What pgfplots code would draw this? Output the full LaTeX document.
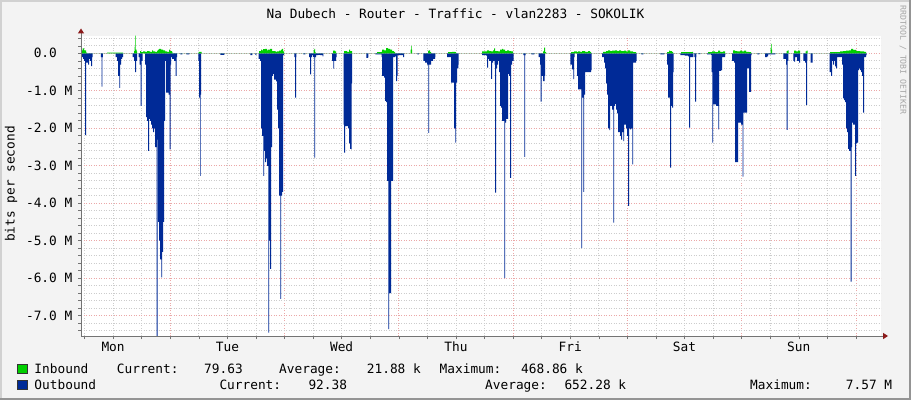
\documentclass[border=0pt]{standalone}
\usepackage{pgfplots}
\pgfplotsset{compat=1.18}
\usepackage{fontspec}
\setmainfont{DejaVu Sans Mono}
\definecolor{bg}{HTML}{F3F3F3}
\definecolor{inb}{HTML}{00CF00}
\definecolor{outb}{HTML}{002A97}
\definecolor{mgrid}{HTML}{EBA8A8}
\definecolor{ngrid}{HTML}{CCCCCC}
\definecolor{arrowred}{HTML}{8B1A1A}
\newcommand\rrdfont{\fontsize{12.8bp}{14bp}\selectfont}
\begin{document}
\begin{tikzpicture}[x=1bp,y=1bp]
\fill[bg] (0,0) rectangle (911,400);
\useasboundingbox (0,0) rectangle (911,400);
% frame
\fill[black!18] (0,398) rectangle (911,400);
\fill[black!18] (0,0) rectangle (2,400);
\fill[black!42] (0,0) rectangle (911,2.5);
\fill[black!42] (908.5,0) rectangle (911,400);

\begin{axis}[
  at={(81bp,64bp)}, anchor=south west,
  scale only axis, width=800bp, height=300bp,
  xmin=81, xmax=881, ymin=-7.542, ymax=0.462,
  axis background/.style={fill=white},
  axis x line*=bottom, axis y line*=left,
  axis line style={draw=black!55, line width=0.8bp},
  xtick={170.2,284.5,398.8,513.1,627.4,741.7,856.0},
  xticklabels={},
  minor xtick={84.5,113.1,141.6,198.8,227.4,255.9,313.1,341.6,370.2,427.4,455.9,484.5,541.7,570.2,598.8,656.0,684.5,713.1,770.3,798.8,827.4},
  extra x ticks={113.1,227.4,341.6,455.9,570.2,684.5,798.8},
  extra x tick labels={Mon,Tue,Wed,Thu,Fri,Sat,Sun},
  extra x tick style={grid=none},
  ytick={-7,-6,-5,-4,-3,-2,-1,0},
  yticklabels={-7.0 M,-6.0 M,-5.0 M,-4.0 M,-3.0 M,-2.0 M,-1.0 M,0.0\phantom{xx}},
  minor ytick={-7.4,-7.2,-6.8,-6.6,-6.4,-6.2,-5.8,-5.6,-5.4,-5.2,-4.8,-4.6,-4.4,-4.2,-3.8,-3.6,-3.4,-3.2,-2.8,-2.6,-2.4,-2.2,-1.8,-1.6,-1.4,-1.2,-0.8,-0.6,-0.4,-0.2,0.2,0.4},
  grid=both,
  major grid style={mgrid, dash pattern=on 1bp off 1.5bp, line width=0.7bp},
  minor grid style={ngrid, dash pattern=on 1bp off 1.5bp, line width=0.7bp},
  tick align=outside, major tick length=3bp, minor tick length=3bp,
  tick style={black!55, line width=0.6bp},
  tick label style={font=\rrdfont, inner sep=0pt},
  yticklabel style={anchor=east, xshift=-5.5bp},
  xticklabel style={anchor=north, yshift=-3bp},
]
% Outbound (drawn below zero)
\addplot[const plot, draw=none, fill=outb] coordinates {
(81,-0.05)(82,-0.1)(83,-0.15)(84,-0.2)(85,-2.18)(86,-0.25)(87,-0.25)(88,-0.3)(89,-0.15)(90,-0.2)(91,-0.34)(92,-0.1)(92.5,0)
(100.5,0)(100.8,-0.1)(101.5,-0.89)(102.3,-0.1)(102.8,0)
(115,0)(115.5,-0.1)(117,-0.2)(118,-0.6)(119.3,-0.92)(120,-0.3)(121,-0.15)(122,-0.1)(123,0)
(132,0)(132.5,-0.1)(134,-0.2)(135,-0.5)(136,-0.2)(137,0)
(138,0)(138.5,-0.1)(139.5,-0.3)(140.7,-1.4)(141.5,-0.2)(142.5,0)
(144,0)(145,-0.3)(146,-1.7)(147,-1.8)(148,-2.6)(149,-1.75)(150,-1.8)(151,-1.9)(152,-2.0)(153,-2.1)(154,-2.0)(155,-2.5)(156.5,-7.6)(157.5,-2.3)(158,-4.5)(159,-5.0)(160,-5.5)(161.3,-5.98)(162,-5.3)(163,-4.5)(164,-1.8)(165,-0.2)(166,-1.05)(167,-1.05)(168.5,-1.1)(169.5,-2.56)(170.5,-0.3)(171,-0.1)(172,-0.15)(174,-0.2)(175.7,-0.6)(176.5,-0.1)(177,0)
(180,0)(180.3,-0.03)(182,-0.03)(182.3,0)(186,0)(186.3,-0.03)(189,-0.03)(189.3,0)
(198,0)(198.3,-0.2)(199,-1.18)(200,-3.27)(200.7,-1.1)(201,0)
(220,0)(220.3,-0.04)(224,-0.04)(224.3,0)
(250,0)(250.3,-0.05)(252,-0.05)(252.3,0)(255,0)(255.3,-0.04)(256,-0.04)(256.3,0)
(258,0)(258.5,-0.15)(260,-0.2)(261,-2.0)(262,-2.2)(263.3,-3.27)(264,-2.6)(265,-2.9)(266,-2.8)(267,-3.0)(268.3,-7.45)(269,-5.0)(270,-5.75)(271,-2.5)(272,-0.6)(273,-0.55)(274,-0.7)(275,-0.7)(276,-0.75)(277,-1.5)(278,-2.0)(279,-3.8)(280.3,-6.55)(281,-3.8)(282,-3.7)(283,-0.05)(284,0)
(294,0)(294.3,-0.1)(295,-1.18)(296,-0.1)(296.3,0)
(303,0)(303.3,-0.03)(305,-0.03)(305.3,0)
(308.5,0)(309,-0.1)(310,-0.56)(311,-0.1)(312,-0.05)(313,-0.1)(314.3,-2.78)(315,-0.1)(316,-0.05)(318,-0.04)(320,-0.05)(322.7,-0.08)(323.3,0)
(331.5,0)(332,-0.2)(333.3,-0.41)(334,-0.2)(336,-0.1)(336.5,0)
(343,0)(343.5,-1.9)(344,-2.65)(345,-1.94)(346,-1.94)(347,-1.94)(348,-2.0)(349,-2.4)(350,-2.55)(351,-2.56)(351.7,-0.8)(352,0)
(366,0)(366.3,-0.12)(368,-0.1)(368.3,0)
(375,0)(375.3,-0.03)(381,-0.03)(381.5,-0.1)(382,-0.6)(383,-0.6)(384,-0.65)(385,-1.27)(386,-1.3)(387,-3.4)(388.3,-7.36)(389,-6.4)(390,-6.4)(391,-3.4)(392,-3.4)(393,-0.1)(395,-0.08)(396,-0.74)(397,-0.6)(397.5,-0.05)(400,-0.05)(403,-0.1)(404,0)
(417,0)(417.3,-0.03)(418.5,-0.03)(418.8,0)
(423,0)(423.3,-0.2)(425,-0.25)(427,-0.3)(428.3,-2.12)(429,-0.3)(431,-0.2)(433,-0.15)(435,-0.1)(435.3,0)
(446.5,0)(447,-0.1)(450,-0.1)(451,-0.78)(453,-0.78)(454,-2.0)(455.3,-2.38)(456,-0.78)(457,-0.4)(458.3,-0.3)(458.6,0)
(481.5,0)(482,-0.05)(486,-0.06)(487,-0.38)(488,-0.15)(489,-0.2)(491,-0.68)(492,-0.25)(493,-0.2)(494.5,-0.3)(495,-3.72)(496,-0.4)(497,-0.3)(498,-0.2)(499,-0.5)(500,-1.4)(501,-1.45)(502,-1.8)(503,-1.8)(504.3,-6.0)(505,-1.85)(506,-1.75)(507,-1.75)(508,-0.55)(509,-0.6)(510,-3.32)(511,-0.3)(512,-0.2)(513,-0.2)(513.5,0)
(523,0)(523.3,-0.05)(524.3,-2.76)(525,-0.05)(525.5,0)
(531,0)(531.3,-0.03)(534,-0.03)(534.3,0)
(538,0)(538.5,-0.1)(540,-0.3)(540.7,-1.29)(541.5,-0.6)(543,-0.74)(544.5,-0.6)(545,0)
(570,0)(570.3,-0.3)(572,-0.43)(573.3,-0.69)(574,-0.1)(574.5,0)
(576.5,0)(577,-0.6)(578,-0.96)(580,-0.96)(581.3,-5.2)(582,-1.18)(583.3,-3.7)(584,-1.1)(585,-0.5)(587,-0.5)(589,-0.5)(591,-0.45)(591.7,0)
(601.5,0)(602,-0.1)(604,-0.25)(605,-0.4)(606,-0.8)(607,-1.1)(608,-2.0)(609.3,-2.05)(610,-1.4)(611,-1.4)(612,-1.5)(613.3,-4.52)(614,-1.4)(615,-1.35)(616,-1.5)(617,-1.6)(618,-2.1)(619,-2.1)(620,-2.2)(621,-2.3)(622,-2.1)(623.3,-2.34)(624,-1.9)(625,-1.9)(626,-2.0)(627,-2.2)(628,-4.07)(629,-2.0)(630,-2.03)(631,-2.0)(632.3,-2.96)(633,-0.25)(634,-0.25)(636,-0.2)(636.7,0)
(641,0)(641.3,-0.03)(643,-0.03)(643.3,0)
(660,0)(660.3,-0.03)(664,-0.03)(664.3,0)
(666.5,0)(667,-0.3)(668,-1.18)(669,-1.18)(670,-3.05)(671,-1.4)(672,-1.45)(673,-0.5)(673.5,0)
(680,0)(680.3,-0.05)(684,-0.04)(685,-0.06)(688,-0.08)(689,-1.98)(690,-0.1)(692,-0.1)(693.3,0)
(694,0)(694.3,-0.1)(695,-1.29)(696,-0.1)(696.3,0)
(698,0)(698.3,-0.02)(700,-0.02)(700.3,0)
(706.7,0)(707,-0.03)(711,-0.04)(711.5,-0.5)(712.3,-2.38)(713,-1.36)(714,-1.36)(715,-1.36)(716,-1.4)(717,-1.4)(718.3,-2.03)(719,-0.47)(720,-0.47)(721,-0.45)(722,-0.1)(725,-0.05)(725.3,0)
(731.7,0)(732,-0.2)(734,-0.25)(735,-2.9)(736.7,-2.9)(737.5,-2.9)(738,-1.85)(740,-1.85)(741,-1.9)(742.7,-3.29)(743.3,-1.58)(745,-1.58)(746,-1.58)(747,-0.4)(748,-0.4)(749,-1.03)(750.5,-1.03)(751,-0.05)(751.7,0)
(757,0)(757.3,-0.03)(759,-0.03)(759.3,0)
(764.5,0)(765,-0.1)(767,-0.08)(768,-0.03)(775,-0.03)(775.3,0)
(783,0)(783.3,-0.15)(785,-0.15)(786,-0.3)(786.7,-2.04)(787.5,-0.2)(788.3,0)
(793,0)(793.3,-0.2)(794,-0.22)(795,-0.1)(797,-0.2)(799,-0.25)(800,0)
(803,0)(803.3,-0.2)(805,-0.25)(806,-1.38)(807,-0.2)(807.3,0)
(810.5,0)(810.7,-0.25)(812,-0.25)(812.7,0)
(829,0)(829.5,-0.5)(831,-0.6)(832,-0.2)(833,-0.3)(834,-0.2)(835,-0.35)(836,-0.4)(837,-0.1)(840,-0.1)(842,-0.3)(843,-1.2)(844,-1.25)(845,-1.3)(846,-2.0)(847,-2.1)(848,-2.55)(849,-2.6)(850.7,-6.09)(851.5,-2.5)(852,-1.85)(853,-1.9)(854,-1.9)(855,-3.27)(856,-2.4)(857,-2.38)(858,-0.45)(859,-0.4)(860,-0.45)(861,-0.5)(862,-0.6)(863,-1.58)(864,-0.1)(866,-0.05)(866.7,0)
} \closedcycle;
% Inbound (drawn above zero)
\addplot[const plot, draw=none, fill=inb] coordinates {
(81,0.08)(82.5,0.13)(84,0.08)(86,0.02)(87,0)
(106,0)(107,0.02)(122,0.02)(123,0)
(133,0)(134,0.06)(134.5,0.18)(135,0.47)(135.7,0.1)(136.5,0.05)(137,0)
(139,0)(140,0.06)(141,0.03)(143,0.05)(145,0.04)(147,0.06)(149,0.05)(150,0.04)(152,0.08)(153,0.05)(155,0.04)(157,0.07)(158,0.1)(159,0.12)(161,0.1)(163,0.08)(165,0.05)(167,0.04)(169,0.1)(170,0.06)(172,0.02)(173,0)
(198,0)(198.5,0.04)(201,0.04)(201.5,0)
(258,0)(259,0.06)(261,0.1)(262,0.08)(263,0.11)(265,0.12)(267,0.08)(268,0.1)(270,0.12)(272,0.06)(275,0.05)(276,0.04)(277,0.05)(279,0.07)(281,0.1)(282,0.12)(283,0.05)(284,0)
(313,0)(313.5,0.08)(314.3,0.12)(315,0.03)(315.5,0)
(332,0)(333,0.07)(335,0.05)(336,0)
(343,0)(344,0.06)(347,0.04)(349,0.1)(350,0.06)(352,0)
(376,0)(377,0.03)(381,0.04)(382,0.1)(384,0.08)(386,0.14)(388,0.12)(390,0.1)(392,0.06)(394,0.03)(395,0)
(410,0)(410.5,0.1)(411,0.2)(411.5,0.1)(412,0)
(427,0)(428,0.06)(428.5,0.08)(430,0.03)(431,0)
(447,0)(448,0.03)(452,0.04)(455,0.03)(456,0)
(481,0)(482,0.05)(485,0.05)(487,0.08)(489,0.06)(491,0.05)(493,0.08)(494,0.13)(495,0.06)(498,0.05)(500,0.1)(502,0.12)(503,0.1)(505,0.06)(507,0.08)(509,0.06)(511,0.05)(513,0)
(542,0)(543,0.05)(544,0.15)(545,0.03)(546,0)
(570,0)(571,0.03)(574,0.05)(577,0.03)(578,0.05)(580,0.04)(582,0.06)(585,0.04)(588,0.06)(590,0.03)(591,0)
(602,0)(603,0.04)(606,0.06)(608,0.08)(610,0.06)(612,0.07)(615,0.08)(617,0.06)(619,0.08)(621,0.06)(624,0.07)(626,0.05)(628,0.08)(630,0.05)(633,0.03)(636,0)
(666,0)(667,0.03)(669,0.07)(670,0.06)(672,0.03)(673,0)
(680,0)(681,0.03)(686,0.03)(692,0.04)(693,0)
(707,0)(708,0.03)(712,0.05)(715,0.03)(718,0.07)(720,0.04)(723,0.05)(725,0)
(732,0)(733,0.08)(735,0.06)(737,0.05)(740,0.07)(742,0.05)(744,0.07)(746,0.04)(749,0.03)(751,0)
(770,0)(770.5,0.15)(771,0.25)(771.5,0.1)(772,0)
(786,0)(786.5,0.06)(787.5,0.08)(788.5,0)
(793,0)(794,0.07)(796,0.05)(798,0.07)(800,0)
(805,0)(805.5,0.05)(806.5,0.07)(807.5,0)
(829,0)(830,0.03)(835,0.03)(840,0.05)(843,0.06)(846,0.07)(849,0.08)(851,0.12)(853,0.09)(856,0.06)(860,0.05)(864,0.04)(866,0)
} \closedcycle;
\end{axis}

% axis extensions with arrow heads
\draw[black!55, line width=0.8bp] (81,64) -- (81,368);
\fill[arrowred] (77.8,366.5) -- (84.2,366.5) -- (81,371.5) -- cycle;
\draw[black!55, line width=0.8bp] (81,64) -- (885,64);
\fill[arrowred] (883,60.8) -- (883,67.2) -- (888,64) -- cycle;

% title and labels
\node[anchor=base, inner sep=0pt, font=\rrdfont] at (455.5,381.5) {Na Dubech - Router - Traffic - vlan2283 - SOKOLIK};
\node[rotate=90, inner sep=0pt, font=\rrdfont] at (11,216) {bits per second};
\node[rotate=-90, inner sep=0pt, text=black!35, font=\fontsize{8.2bp}{9bp}\selectfont] at (903,340) {RRDTOOL / TOBI OETIKER};

% legend
\filldraw[fill=inb, draw=black!80, line width=0.6bp] (17,27) rectangle (27,36);
\filldraw[fill=outb, draw=black!80, line width=0.6bp] (17,11) rectangle (27,20);
\begin{scope}[every node/.style={anchor=base west, inner sep=0pt, font=\rrdfont}]
\node at (34.3,27) {Inbound};
\node at (116.7,27) {Current:};
\node at (204,27) {79.63};
\node at (279,27) {Average:};
\node at (366.7,27) {21.88 k};
\node at (439.5,27) {Maximum:};
\node at (521,27) {468.86 k};
\node at (34.3,11) {Outbound};
\node at (219.3,11) {Current:};
\node at (308.3,11) {92.38};
\node at (485,11) {Average:};
\node at (564.3,11) {652.28 k};
\node at (750,11) {Maximum:};
\node at (845.7,11) {7.57 M};
\end{scope}
\end{tikzpicture}
\end{document}
